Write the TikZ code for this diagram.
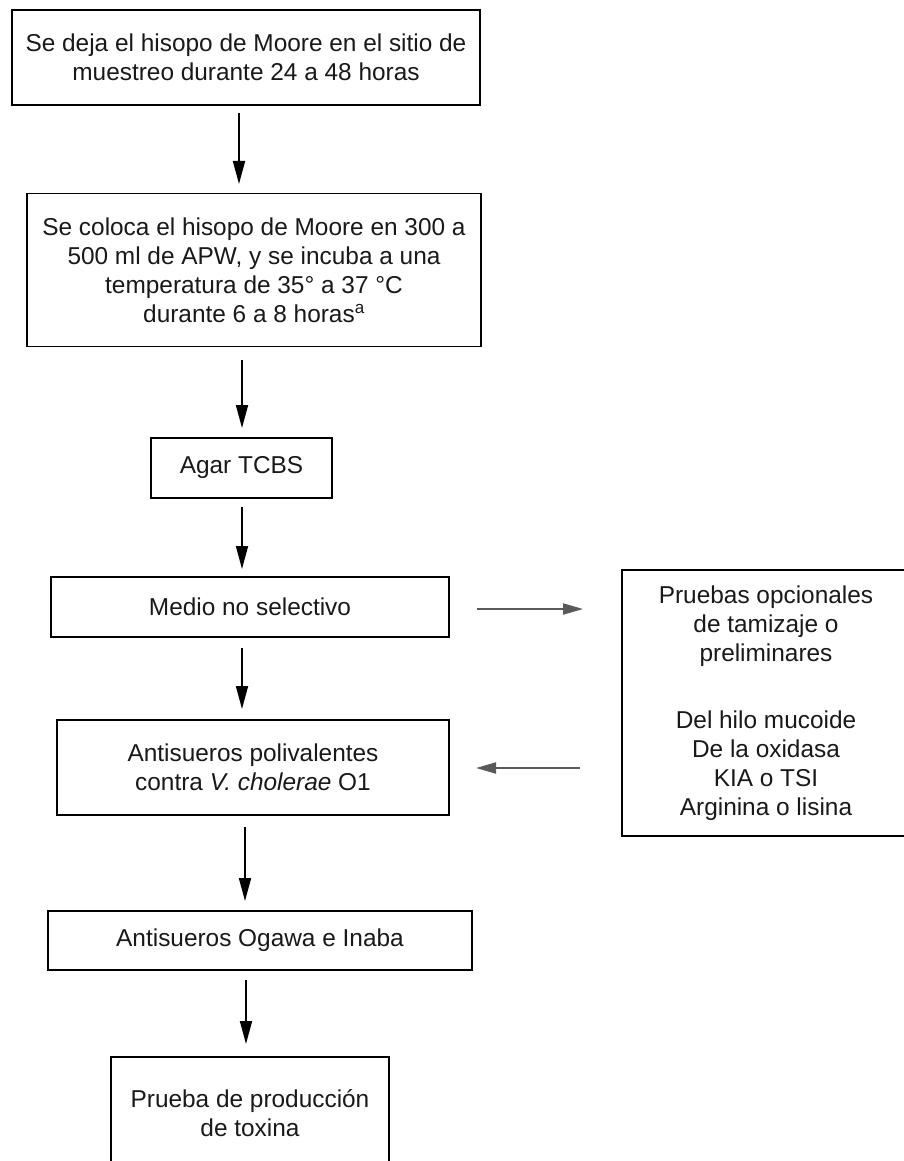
\documentclass[tikz,border=0pt]{standalone}
\usepackage{fontspec}
\setmainfont{Liberation Sans}
\usetikzlibrary{arrows.meta}
\begin{document}
\begin{tikzpicture}[x=1pt,y=-1pt,
  box/.style={draw=black, line width=1.4pt, inner sep=0pt, align=center,
    font=\fontsize{24.4}{29}\selectfont, text=black!90},
  varr/.style={line width=1.8pt, -{Triangle[length=23pt,width=12pt]}},
  harr/.style={line width=2pt, draw=black!65, -{Triangle[length=20pt,width=11pt]}, color=black!65}]
\useasboundingbox (0,0) rectangle (903,1161);
\fill[white] (0,0) rectangle (903,1161);

\node[box, minimum width=468pt, minimum height=95pt] (b1) at (246,57.5)
  {Se deja el hisopo de Moore en el sitio de\\muestreo durante 24 a 48 horas};
\node[box, minimum width=454pt, minimum height=153pt] (b2) at (254,270)
  {Se coloca el hisopo de Moore en 300 a\\500 ml de APW, y se incuba a una\\temperatura de 35° a 37 °C\\durante 6 a 8 horas\textsuperscript{a}};
\node[box, minimum width=181pt, minimum height=60pt] (b3) at (241.5,468) {Agar TCBS};
\node[box, minimum width=398pt, minimum height=60pt] (b4) at (250,607) {Medio no selectivo};
\node[box, minimum width=392pt, minimum height=95pt] (b5) at (253,767.5)
  {Antisueros polivalentes\\contra \textit{V. cholerae} O1};
\node[box, minimum width=424pt, minimum height=59pt] (b6) at (260,940.5) {Antisueros Ogawa e Inaba};
\node[box, minimum width=278pt, minimum height=112pt] (b7) at (250,1113)
  {Prueba de producción\\de toxina};
\node[box, minimum width=288pt, minimum height=266pt] (pr) at (766,703)
  {Pruebas opcionales\\de tamizaje o\\preliminares\\[38pt]Del hilo mucoide\\De la oxidasa\\KIA o TSI\\Arginina o lisina};

\coordinate (a1s) at (239,113); \coordinate (a1e) at (239,184);
\coordinate (a2s) at (242,360); \coordinate (a2e) at (242,428);
\coordinate (a3s) at (242,507); \coordinate (a3e) at (242,569);
\coordinate (a4s) at (242,648); \coordinate (a4e) at (242,709);
\coordinate (a5s) at (245,827); \coordinate (a5e) at (245,901);
\coordinate (a6s) at (246,980); \coordinate (a6e) at (246,1044);
\draw[varr] (a1s) -- (a1e);
\draw[varr] (a2s) -- (a2e);
\draw[varr] (a3s) -- (a3e);
\draw[varr] (a4s) -- (a4e);
\draw[varr] (a5s) -- (a5e);
\draw[varr] (a6s) -- (a6e);
\coordinate (h1s) at (477,609); \coordinate (h1e) at (583,609);
\coordinate (h2s) at (580,768); \coordinate (h2e) at (476,768);
\draw[harr] (h1s) -- (h1e);
\draw[harr] (h2s) -- (h2e);
\end{tikzpicture}
\end{document}
